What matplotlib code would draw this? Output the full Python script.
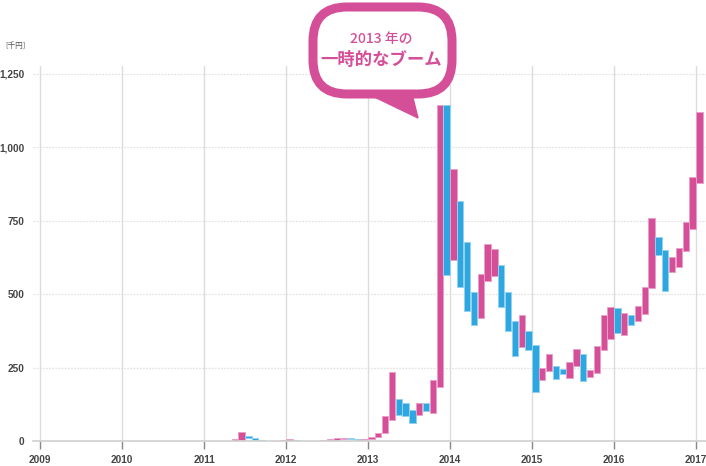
import matplotlib
matplotlib.use("Agg")
import matplotlib.pyplot as plt
from matplotlib.patches import FancyBboxPatch, Polygon

# monthly open / close values [千円]
months = ["2011-04", "2011-05", "2011-06", "2011-07", "2011-08", "2011-09",
          "2011-12", "2012-01", "2012-02", "2012-06", "2012-07", "2012-08",
          "2012-09", "2012-10", "2012-11", "2012-12",
          "2013-01", "2013-02", "2013-03", "2013-04", "2013-05", "2013-06",
          "2013-07", "2013-08", "2013-09", "2013-10", "2013-11", "2013-12",
          "2014-01", "2014-02", "2014-03", "2014-04", "2014-05", "2014-06",
          "2014-07", "2014-08", "2014-09", "2014-10", "2014-11", "2014-12",
          "2015-01", "2015-02", "2015-03", "2015-04", "2015-05", "2015-06",
          "2015-07", "2015-08", "2015-09", "2015-10", "2015-11", "2015-12",
          "2016-01", "2016-02", "2016-03", "2016-04", "2016-05", "2016-06",
          "2016-07", "2016-08", "2016-09", "2016-10", "2016-11", "2016-12",
          "2017-01"]
opens = [0.5, 1, 3, 17, 11, 5,
         1, 1, 5, 2, 3, 4,
         8, 10, 7, 4,
         6, 15, 28, 70, 144, 131,
         105, 89, 131, 97, 185, 1144,
         615, 816, 677, 507, 419, 545,
         563, 601, 507, 407, 321, 374,
         328, 208, 237, 254, 245, 214,
         256, 295, 219, 232, 309, 349,
         452, 362, 430, 410, 431, 521,
         693, 650, 575, 593, 648, 723,
         878]
closes = [1.5, 8, 31, 9, 3, 1,
          2, 7, 2, 5, 6, 10,
          10, 8, 3, 6,
          15, 28, 85, 235, 89, 85,
          60, 131, 102, 208, 1144, 566,
          927, 523, 442, 396, 570, 672,
          655, 458, 376, 288, 429, 310,
          168, 250, 297, 212, 228, 269,
          312, 206, 241, 323, 430, 457,
          368, 435, 396, 461, 525, 759,
          634, 510, 626, 657, 747, 898,
          1120]
years = list(range(2009, 2018))
yticks = [0, 250, 500, 750, 1000, 1250]
ytick_labels = ["0", "250", "500", "750", "1,000", "1,250"]

pink = "#d54f98"
pink_edge = "#e8a0c8"
blue = "#2ea7e0"
blue_edge = "#92d3f1"

fig = plt.figure(figsize=(7.06, 4.66), dpi=100)
ax = fig.add_axes([33 / 706, 25 / 466, 1 - 33 / 706, 375 / 466])

xs = [int(m[:4]) + (int(m[5:]) - 1) / 12 + 1 / 24 for m in months]
for x, o, c in zip(xs, opens, closes):
    up = c >= o
    ax.bar(x, c - o, bottom=o, width=1 / 12 * 0.95,
           color=pink if up else blue, edgecolor=pink_edge if up else blue_edge,
           linewidth=0.7, zorder=3)

ax.set_xlim(2009 - 7 / 82, 2017 + 10 / 82)
ax.set_ylim(0, 1277)
tick_font = dict(family="Liberation Sans", fontweight="bold", fontsize=7.2, color="#454545")
ax.set_xticks(years, labels=[str(y) for y in years], **tick_font)
ax.set_yticks(yticks, labels=ytick_labels, **tick_font)

for y in yticks[1:]:
    ax.axhline(y, color="#e4e4e4", lw=0.9, ls=(0, (1.5, 1)), zorder=1)
for y in years:
    ax.axvline(y, color="#dcdcdc", lw=1, zorder=1)

for s in ["top", "right", "left"]:
    ax.spines[s].set_visible(False)
ax.spines["bottom"].set_color("#d0d0d0")
ax.spines["bottom"].set_linewidth(1.2)
ax.spines["bottom"].set_zorder(4)

ax.tick_params(axis="x", length=6, width=1, color="#888888", pad=4)
ax.tick_params(axis="y", length=0, pad=6)

fig.text(5 / 706, 1 - 46 / 466, "[千円]", fontsize=5.5, color="#555555",
         family=["Noto Sans CJK JP", "DejaVu Sans"], va="center", ha="left")

# speech bubble, in figure pixel coordinates
ov = fig.add_axes([0, 0, 1, 1], zorder=10)
ov.set_xlim(0, 706)
ov.set_ylim(466, 0)
ov.axis("off")
ov.patch.set_alpha(0)

tail = Polygon([(364, 92), (418, 118), (410, 86)], closed=True,
               facecolor=pink, edgecolor=pink, lw=1)
ov.add_patch(tail)
bubble = FancyBboxPatch((313, 7), 139, 87, boxstyle="round,pad=0,rounding_size=34",
                        facecolor="white", edgecolor=pink, lw=6.5)
ov.add_patch(bubble)

ov.text(381, 39, "2013 年の", ha="center", va="center", fontsize=10, color=pink,
        family=["Noto Sans CJK JP", "DejaVu Sans"], fontweight="medium")
ov.text(381, 60, "一時的なブーム", ha="center", va="center", fontsize=12.5, color=pink,
        family=["Noto Sans CJK JP", "DejaVu Sans"], fontweight="bold")

fig.savefig("out.png", dpi=100)
